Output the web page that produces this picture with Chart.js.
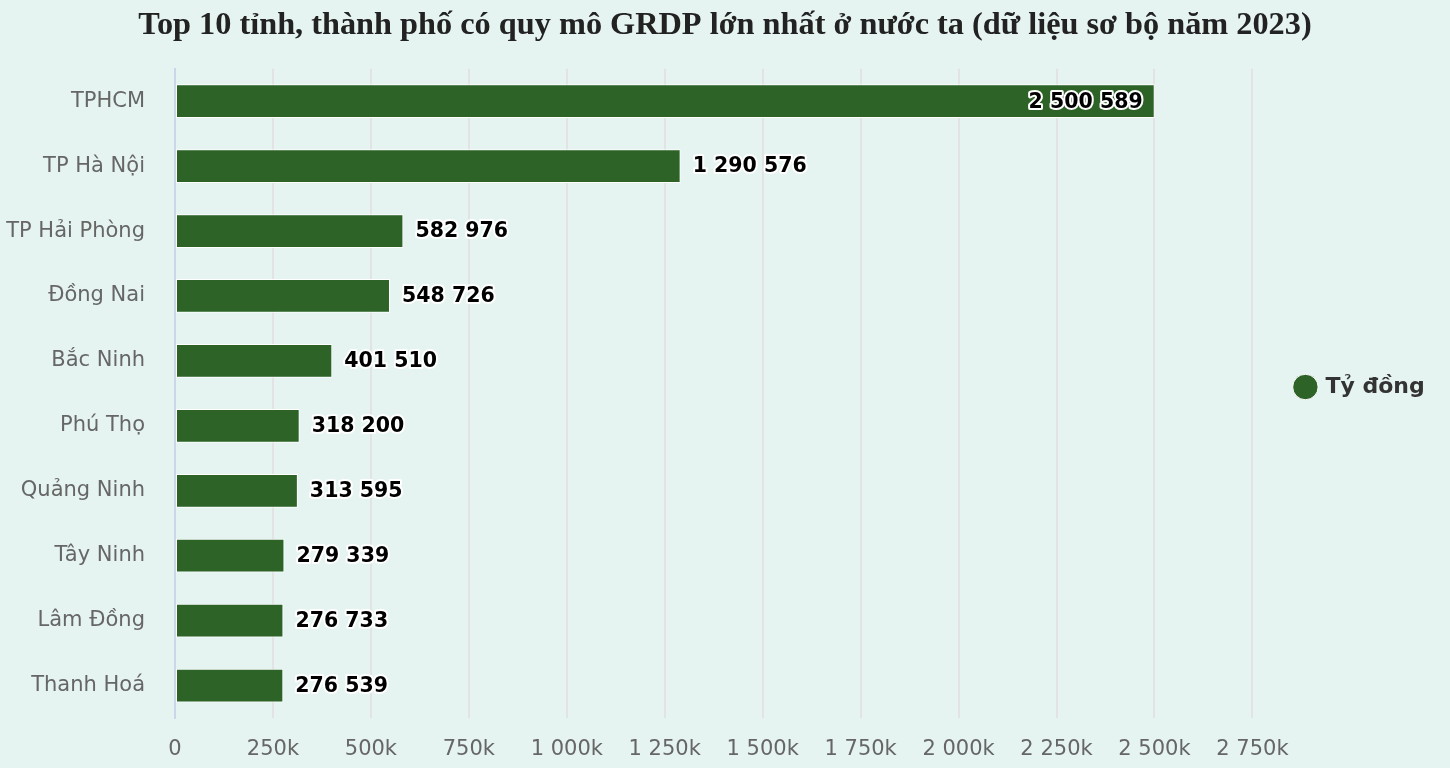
<!DOCTYPE html>
<html>
<head>
<meta charset="utf-8">
<script src="https://cdn.jsdelivr.net/npm/chart.js@4"></script>
<style>
  body { margin: 0; background: #e5f4f1; }
  #wrap { width: 1450px; height: 768px; }
</style>
</head>
<body>
<div id="wrap"><canvas id="grdpChart" width="1450" height="768"></canvas></div>
<script>
// provinces and GRDP 2023 (tỷ đồng)
const provinces = ["TPHCM", "TP Hà Nội", "TP Hải Phòng", "Đồng Nai", "Bắc Ninh",
    "Phú Thọ", "Quảng Ninh", "Tây Ninh", "Lâm Đồng", "Thanh Hoá"];
const grdpValues = [2500589, 1290576, 582976, 548726, 401510,
    318200, 313595, 279339, 276733, 276539];
const seriesName = "Tỷ đồng";
const chartTitle = "Top 10 tỉnh, thành phố có quy mô GRDP lớn nhất ở nước ta (dữ liệu sơ bộ năm 2023)";

function spaced(n) {
    return String(n).replace(/\B(?=(\d{3})+(?!\d))/g, " ");
}

// value labels: inside the long bar, outside the rest
const barLabels = {
    id: "barLabels",
    afterDatasetsDraw(chart) {
        const ctx = chart.ctx;
        const meta = chart.getDatasetMeta(0);
        ctx.save();
        ctx.font = "bold 20.5px 'DejaVu Sans'";
        ctx.textBaseline = "middle";
        ctx.lineJoin = "round";
        meta.data.forEach((bar, i) => {
            const txt = spaced(grdpValues[i]);
            let x = bar.x + 12;
            ctx.textAlign = "left";
            if (i === 0) {
                x = bar.x - 12;
                ctx.textAlign = "right";
            }
            ctx.strokeStyle = "#ffffff";
            ctx.lineWidth = 4;
            ctx.strokeText(txt, x, bar.y + 1);
            ctx.fillStyle = "#000000";
            ctx.fillText(txt, x, bar.y + 1);
        });
        ctx.restore();
    }
};

const ctx = document.getElementById("grdpChart").getContext("2d");
new Chart(ctx, {
    type: "bar",
    data: {
        labels: provinces,
        datasets: [{
            label: seriesName,
            data: grdpValues,
            backgroundColor: "#2d6326",
            borderColor: "#ffffff",
            borderWidth: 1,
            borderSkipped: false,
            categoryPercentage: 1,
            barPercentage: 0.52
        }]
    },
    options: {
        indexAxis: "y",
        responsive: false,
        animation: false,
        devicePixelRatio: 1,
        layout: { padding: { top: 6, bottom: 0, left: 0, right: 0 } },
        plugins: {
            title: {
                display: true,
                text: chartTitle,
                color: "#222222",
                font: { family: "'Liberation Serif'", size: 32.3, weight: "bold" },
                padding: { top: 0, bottom: 24 }
            },
            legend: {
                position: "right",
                labels: {
                    usePointStyle: true,
                    pointStyle: "circle",
                    boxWidth: 18,
                    boxHeight: 18,
                    color: "#333333",
                    padding: 44,
                    font: { family: "'DejaVu Sans'", size: 22, weight: "bold" },
                    // trailing spaces keep the legend column as wide as the reference margin
                    generateLabels(chart) {
                        const items = Chart.defaults.plugins.legend.labels.generateLabels(chart);
                        items.forEach(it => { it.text = it.text + "  "; });
                        return items;
                    }
                }
            },
            tooltip: { enabled: false }
        },
        scales: {
            x: {
                min: 0,
                max: 2750000,
                ticks: {
                    stepSize: 250000,
                    padding: 19,
                    color: "#666666",
                    font: { family: "'DejaVu Sans'", size: 21 },
                    maxRotation: 0,
                    callback: v => v === 0 ? "0" : spaced(v / 1000) + "k"
                },
                grid: { color: "#e3e3e3", lineWidth: 2, drawTicks: false },
                border: { display: false },
                afterFit(scale) { scale.height = 50; }
            },
            y: {
                ticks: {
                    padding: 30,
                    color: "#666666",
                    font: { family: "'DejaVu Sans'", size: 21 }
                },
                grid: { display: false, drawTicks: false },
                border: { display: true, color: "#ccd6eb", width: 2 },
                afterFit(scale) { scale.width = 175; }
            }
        }
    },
    plugins: [barLabels]
});
</script>
</body>
</html>
